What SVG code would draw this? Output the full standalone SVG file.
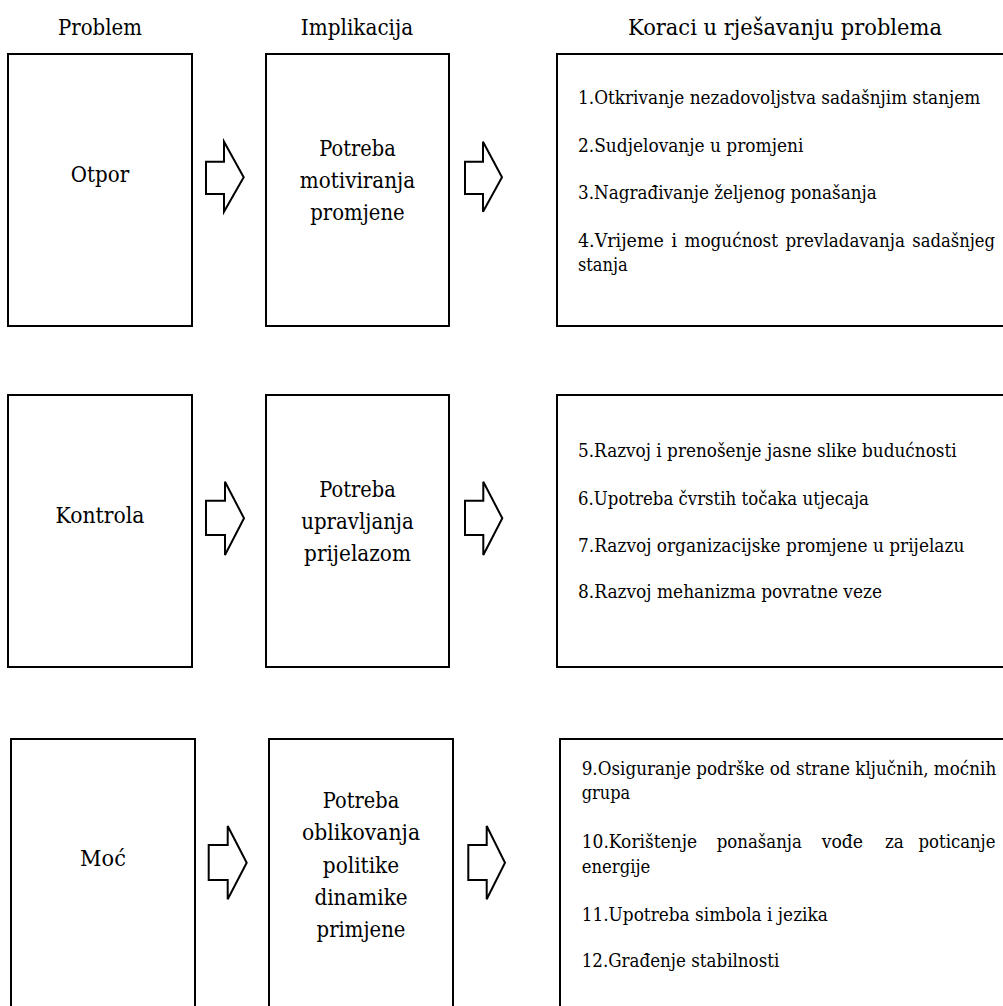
<svg xmlns="http://www.w3.org/2000/svg" width="1003" height="1006" viewBox="0 0 1003 1006">
<style>
text{font-family:'DejaVu Serif','Liberation Serif',serif;fill:#000}
.h{font-size:23px;text-anchor:middle}
.c{font-size:22.5px;text-anchor:middle}
.r{font-size:19px}
.box{fill:#fff;stroke:#000;stroke-width:2}
.arr{fill:#fff;stroke:#000;stroke-width:2;stroke-linejoin:miter}
</style>
<rect width="1003" height="1006" fill="#fff"/>
<g id="headers">
<text class="h" x="100" y="35" textLength="84" lengthAdjust="spacingAndGlyphs">Problem</text>
<text class="h" x="357" y="35" textLength="112.3" lengthAdjust="spacingAndGlyphs">Implikacija</text>
<text class="h" x="785" y="35" textLength="314" lengthAdjust="spacingAndGlyphs">Koraci u rješavanju problema</text>
</g>
<g id="connectors">
<polygon class="arr" points="206,161.7 224,161.7 224,141.7 243.7,177.3 224,211.7 224,194 206,194"/>
<polygon class="arr" points="465,161.7 483,161.7 483,141.7 502,177.3 483,211.7 483,194 465,194"/>
<polygon class="arr" points="206,500.7 225,500.7 225,481.7 244,518.3 225,555 225,535 206,535"/>
<polygon class="arr" points="465,500.7 483.3,500.7 483.3,481.7 502.3,518.3 483.3,555 483.3,535 465,535"/>
<polygon class="arr" points="208.7,845 227.7,845 227.7,826 246.7,862.7 227.7,899.3 227.7,880 208.7,880"/>
<polygon class="arr" points="468.3,845 486.7,845 486.7,826 505,862.7 486.7,899.3 486.7,880 468.3,880"/>
</g>
<g id="otpor">
<rect class="box" x="8" y="54" width="184" height="272"/>
<text class="c" x="100" y="182" textLength="58.3" lengthAdjust="spacingAndGlyphs">Otpor</text>
</g>
<g id="motiviranje">
<rect class="box" x="266" y="54" width="183" height="272"/>
<text class="c" x="357.5" y="156" textLength="76.4" lengthAdjust="spacingAndGlyphs">Potreba</text>
<text class="c" x="357.5" y="188" textLength="115.3" lengthAdjust="spacingAndGlyphs">motiviranja</text>
<text class="c" x="357.5" y="220" textLength="94.4" lengthAdjust="spacingAndGlyphs">promjene</text>
</g>
<g id="koraci1">
<rect class="box" x="557" y="54" width="455" height="272"/>
<text class="r" x="578" y="104" textLength="402.3" lengthAdjust="spacingAndGlyphs">1.Otkrivanje nezadovoljstva sadašnjim stanjem</text>
<text class="r" x="578" y="151.5" textLength="225.4" lengthAdjust="spacingAndGlyphs">2.Sudjelovanje u promjeni</text>
<text class="r" x="578" y="198.5" textLength="298.7" lengthAdjust="spacingAndGlyphs">3.Nagrađivanje željenog ponašanja</text>
<text class="r" y="246.5"><tspan x="578" textLength="85.8" lengthAdjust="spacingAndGlyphs">4.Vrijeme</tspan><tspan x="671.2" textLength="5.9" lengthAdjust="spacingAndGlyphs">i</tspan><tspan x="684.5" textLength="93.5" lengthAdjust="spacingAndGlyphs">mogućnost</tspan><tspan x="785.4" textLength="119.5" lengthAdjust="spacingAndGlyphs">prevladavanja</tspan><tspan x="912.3" textLength="82.8" lengthAdjust="spacingAndGlyphs">sadašnjeg</tspan></text>
<text class="r" x="578" y="270.5" textLength="49.7" lengthAdjust="spacingAndGlyphs">stanja</text>
</g>
<g id="kontrola">
<rect class="box" x="8" y="395" width="184" height="272"/>
<text class="c" x="100" y="523" textLength="88.9" lengthAdjust="spacingAndGlyphs">Kontrola</text>
</g>
<g id="upravljanje">
<rect class="box" x="266" y="395" width="183" height="272"/>
<text class="c" x="357.5" y="497" textLength="76.4" lengthAdjust="spacingAndGlyphs">Potreba</text>
<text class="c" x="357.5" y="529" textLength="112.5" lengthAdjust="spacingAndGlyphs">upravljanja</text>
<text class="c" x="357.5" y="561" textLength="106.9" lengthAdjust="spacingAndGlyphs">prijelazom</text>
</g>
<g id="koraci2">
<rect class="box" x="557" y="395" width="455" height="272"/>
<text class="r" x="578" y="457" textLength="378.6" lengthAdjust="spacingAndGlyphs">5.Razvoj i prenošenje jasne slike budućnosti</text>
<text class="r" x="578" y="505" textLength="291" lengthAdjust="spacingAndGlyphs">6.Upotreba čvrstih točaka utjecaja</text>
<text class="r" x="578" y="552" textLength="386.3" lengthAdjust="spacingAndGlyphs">7.Razvoj organizacijske promjene u prijelazu</text>
<text class="r" x="578" y="598" textLength="304" lengthAdjust="spacingAndGlyphs">8.Razvoj mehanizma povratne veze</text>
</g>
<g id="moc">
<rect class="box" x="11" y="739" width="184" height="280"/>
<text class="c" x="103" y="866" textLength="45.8" lengthAdjust="spacingAndGlyphs">Moć</text>
</g>
<g id="politika">
<rect class="box" x="269" y="739" width="184" height="280"/>
<text class="c" x="361" y="808" textLength="76.4" lengthAdjust="spacingAndGlyphs">Potreba</text>
<text class="c" x="361" y="840" textLength="118.1" lengthAdjust="spacingAndGlyphs">oblikovanja</text>
<text class="c" x="361" y="873" textLength="76.4" lengthAdjust="spacingAndGlyphs">politike</text>
<text class="c" x="361" y="905" textLength="93.1" lengthAdjust="spacingAndGlyphs">dinamike</text>
<text class="c" x="361" y="937" textLength="88.9" lengthAdjust="spacingAndGlyphs">primjene</text>
</g>
<g id="koraci3">
<rect class="box" x="560" y="739" width="452" height="280"/>
<text class="r" x="581.7" y="775" textLength="414.5" lengthAdjust="spacingAndGlyphs">9.Osiguranje podrške od strane ključnih, moćnih</text>
<text class="r" x="581.7" y="799" textLength="48.5" lengthAdjust="spacingAndGlyphs">grupa</text>
<text class="r" y="848"><tspan x="581.7" textLength="115.4" lengthAdjust="spacingAndGlyphs">10.Korištenje</tspan><tspan x="716.7" textLength="85.2" lengthAdjust="spacingAndGlyphs">ponašanja</tspan><tspan x="821.7" textLength="41.4" lengthAdjust="spacingAndGlyphs">vođe</tspan><tspan x="885" textLength="18.9" lengthAdjust="spacingAndGlyphs">za</tspan><tspan x="918.5" textLength="77" lengthAdjust="spacingAndGlyphs">poticanje</tspan></text>
<text class="r" x="581.7" y="873" textLength="68.6" lengthAdjust="spacingAndGlyphs">energije</text>
<text class="r" x="581.7" y="921" textLength="246.1" lengthAdjust="spacingAndGlyphs">11.Upotreba simbola i jezika</text>
<text class="r" x="581.7" y="967" textLength="197.6" lengthAdjust="spacingAndGlyphs">12.Građenje stabilnosti</text>
</g>
</svg>
